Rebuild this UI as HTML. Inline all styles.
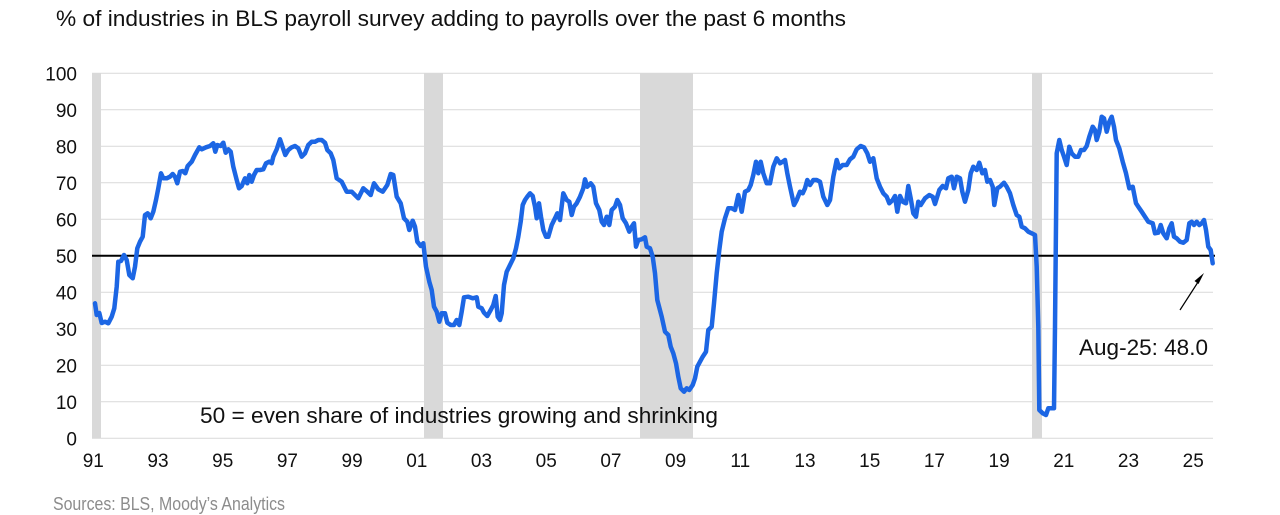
<!DOCTYPE html>
<html>
<head>
<meta charset="utf-8">
<style>
  html,body{margin:0;padding:0;background:#fff;}
  svg{display:block;}
  text{font-family:"Liberation Sans",Arial,sans-serif;}
</style>
</head>
<body>
<svg width="1280" height="515" viewBox="0 0 1280 515" xmlns="http://www.w3.org/2000/svg">
  <rect x="0" y="0" width="1280" height="515" fill="#fff"/>
  <!-- title -->
  <text x="56" y="26" font-size="22" fill="#111" textLength="790" lengthAdjust="spacingAndGlyphs">% of industries in BLS payroll survey adding to payrolls over the past 6 months</text>

  <!-- recession shading -->
  <g fill="#d9d9d9">
    <rect x="92" y="73" width="9" height="365"/>
    <rect x="424" y="73" width="19" height="365"/>
    <rect x="640" y="73" width="53" height="365"/>
    <rect x="1032" y="73" width="10" height="365"/>
  </g>

  <!-- gridlines -->
  <g stroke="#d9d9d9" stroke-width="1">
    <line x1="92" x2="1213" y1="73.3" y2="73.3"/>
    <line x1="92" x2="1213" y1="109.8" y2="109.8"/>
    <line x1="92" x2="1213" y1="146.3" y2="146.3"/>
    <line x1="92" x2="1213" y1="182.8" y2="182.8"/>
    <line x1="92" x2="1213" y1="219.3" y2="219.3"/>
    <line x1="92" x2="1213" y1="292.3" y2="292.3"/>
    <line x1="92" x2="1213" y1="328.8" y2="328.8"/>
    <line x1="92" x2="1213" y1="365.3" y2="365.3"/>
    <line x1="92" x2="1213" y1="401.8" y2="401.8"/>
    <line x1="92" x2="1213" y1="438.3" y2="438.3"/>
  </g>

  <!-- y labels -->
  <g font-size="19" fill="#111" text-anchor="end">
    <text x="77" y="80.3">100</text>
    <text x="77" y="116.8">90</text>
    <text x="77" y="153.3">80</text>
    <text x="77" y="189.8">70</text>
    <text x="77" y="226.3">60</text>
    <text x="77" y="262.8">50</text>
    <text x="77" y="299.3">40</text>
    <text x="77" y="335.8">30</text>
    <text x="77" y="372.3">20</text>
    <text x="77" y="408.8">10</text>
    <text x="77" y="445.3">0</text>
  </g>

  <!-- x labels -->
  <g font-size="19" fill="#111" text-anchor="middle">
    <text x="93.3" y="467">91</text>
    <text x="158.0" y="467">93</text>
    <text x="222.7" y="467">95</text>
    <text x="287.4" y="467">97</text>
    <text x="352.1" y="467">99</text>
    <text x="416.8" y="467">01</text>
    <text x="481.5" y="467">03</text>
    <text x="546.2" y="467">05</text>
    <text x="610.9" y="467">07</text>
    <text x="675.6" y="467">09</text>
    <text x="740.3" y="467">11</text>
    <text x="805.0" y="467">13</text>
    <text x="869.7" y="467">15</text>
    <text x="934.4" y="467">17</text>
    <text x="999.1" y="467">19</text>
    <text x="1063.8" y="467">21</text>
    <text x="1128.5" y="467">23</text>
    <text x="1193.2" y="467">25</text>
  </g>

  <!-- 50 line -->
  <line x1="92" x2="1215" y1="255.8" y2="255.8" stroke="#000" stroke-width="2"/>

  <!-- series -->
  <polyline fill="none" stroke="#1c66e4" stroke-width="4.5" stroke-linejoin="round" stroke-linecap="round" points="
95,303.3 96.7,315 99.3,313 101.7,323 105,321.7 108.3,323.3 111.7,316.7 114.3,308.3 116.7,286.7 118.3,261.7 121,261 124,255 126.7,260 129.3,275 132.7,278.3 135,266.7 137.3,248.3 140,241.7 142.7,236.7 145,215 147.7,213.3 150.7,218.3 153.3,211.7 156,200 158.3,188.3 161,173.3 163.3,178.3 166.7,178.3 170,176.7 172.7,174 175,176.7 177.3,183.3 180,171.7 182.7,171 185.3,173.3 187.7,166 191.7,161.7 195,155 199.3,147.3 201.7,149.3 206,147.3 210,146 213.3,143.3 215.3,151.7 217.3,145 220.7,146 223.3,142.7 225.7,152.7 228.3,149.3 230.7,151.7 233.3,166.7 236.7,180 239,188.3 241.7,186 245,178.3 247.3,183.3 249.3,175 251.7,181.7 254,175 256.7,170 260,170 263.3,169.3 266,163.3 269.3,161.7 271.7,163.3 273.3,156.7 276.7,149.3 280,139.3 282.7,147.3 285.3,155 288.3,150 291.7,147.3 295,146 298.3,148.3 301.7,156.7 305,153.3 308.3,145 311.7,141.7 315,141.7 318.3,140 321.7,140 325,142.7 327.3,150 330.7,153.3 333.3,160
336.7,178.3 341.7,181.7 346.7,191.7 351.7,191.7 358.3,198.3 363.3,188.3 367.3,191.7 370.7,195 374,183.3 378.3,189.3 382.7,191.7 387.3,185 390.7,174 393.3,175 396.7,196.7 400.7,203.3 404,218.3 407.3,221.7 409.3,230 412.7,220.7 415,226.7 417.3,241.7 420.7,246 423.3,243.3 426,266.7 429.3,281.7 431.7,290 434,306.7 436.7,311.7 439.3,321.7 441.7,313.3 445,313.3 447.3,322.7 450.7,325 454,325 456.7,320 459.3,325 461.7,311.7 464,297.3 468.3,296.7 472.7,298.3 476.7,297.3 478.3,306.7 481.7,308.3 484,312.7 487.3,316 490.7,310 493.3,305 495.7,296 497.7,316.7 500,320 501.7,313.3 504,285 506.7,271.7 510,265 513.3,258.3 516,248.3 518.3,236.7 520.7,221.7 522.7,205 525,200 527.3,196.7 530,193.3 532.7,196 535,206.7 536.7,218.3 539,203.3 541,216.7 543.3,230 546,236.7 548.3,236.7 551.7,225 555,218.3 557.3,213.3 560,220 563.3,193.3 566.7,200 569.3,201.7 571.7,215 574,206.7 576.7,203.3 580,196.7 583.3,188.3 585,179.3 587.3,186.7 590.7,183.3 593.3,186.7 596,203.3 599.3,210 601.7,221.7 604,225 606.7,216.7 609.3,225 611.7,210 615,206.7 617.3,200 620,205 622.7,218.3 626,223.3 629.3,231.7 631.7,226.7 634,223.3 636,246.7 638.3,240 641.7,239.3 645,237.3 646.7,246.7 650,248.3 652.7,256.7 655,273.3 657.3,300
661.7,316.7 665,331.7 668.3,335 670.7,346.7 673.3,353.3 676,363.3 678.3,376.7 680.7,388.3 684,391.7 686.7,388.3 689.3,390 692.7,385 695,378.3 697.3,366.7 700,361.7 702.7,356.7 706,351.7 708.3,330 711.7,326.7 714,303.3 716.7,273.3 719.3,250 721.7,231.7 725,218.3 728.3,208.3 731.7,208.3 735,210 738.3,195 741.7,211.7 745,191.7 748.3,190 750.7,185 753.3,175 756,161.7 758.3,173.3 760.7,161.7 763.3,173.3 766.7,183.3 770,183.3 773.3,166.7 776.7,158.3 780,163.3 782.7,161.7 785,160 787.3,173.3 790,186.7 794,205 796.7,200 800,191.7 802.7,193.3 805,188.3 807.3,180 810,185 813.3,180 816.7,180
820,181.7 823.3,196.7 827.3,205 830,200 833.3,176.7 836.7,160 839.3,168.3 842.7,165 846.7,165 850,159.3 853.3,156.7 856.7,149.3 860.7,146 864,147.3 867.3,153.3 870,161.7 873.3,158.3 876.7,178.3 880,186.7 883.3,193.3 886.7,196.7 889.3,203.3 892.7,200 895,196 897.3,211.7 900,196 902.7,201.7 906,203.3 908.3,186 910.7,198.3 913.3,213.3 916,216.7 918.3,201.7 920.7,205 925,198.3 929.3,195 932.7,196.7 935,204 939.3,190 942.7,186 946,188.3 948.3,178.3 951.7,176.7 954,188.3 956.7,176.7 960,178.3 962.3,191.7 965,201.7 968.3,190 970.7,173.3 973.3,166.7 976.7,170 979.3,162.7 982.3,173.3 985,170 987.3,181.7 990,180 992.7,186.7 994.3,205 997.3,188.3 1000,186.7 1004,182.7 1006.7,186.7 1010,193.3 1013.3,205 1016.7,215 1019.3,216.7 1021.7,226.7 1025,228.3 1028.3,231.7 1031.7,233.3 1035,235 1036.7,266.7 1038.3,326.7 1039.3,410 1042.7,413.3 1046,415 1048.3,408.3 1051.7,408.3 1054,408.3 1055,326.7 1056.7,153.3 1059.3,140 1061.7,150 1064,156.7 1066.7,165 1069.3,146.7 1071.7,153.3 1075,156.7 1078.3,156.7 1081,150 1084,150 1086.7,146 1089.3,136.7 1092.7,126.7 1095,130 1096.7,140 1099.3,131.7 1101.7,116.7 1104,118.3 1106.7,131.7 1109.3,121.7 1111.7,116.7 1114,126.7 1116,140 1119.3,148.3 1122.7,161.7 1126,173.3 1129.3,188.3 1132.7,186.7 1136,203.3 1138.3,206.7 1141.7,211.7 1145,216.7 1148.3,221.7 1152.7,223.3 1155,233.3 1158.3,232.7 1160.7,225 1163.3,233.3 1166.7,238.3 1169.3,228.3 1171.7,223.3 1174,236.7 1176.7,238.3 1180,241.7 1183.3,242.7 1186.7,240 1189.3,223.3 1191.7,221.7 1194,225 1196.7,221.7 1199.3,225 1201.7,223.3 1204,220 1206,230 1208.3,246.7 1210.7,250 1212.7,263.3"/>

  <!-- annotations -->
  <text x="200" y="423" font-size="22" fill="#111" textLength="518" lengthAdjust="spacingAndGlyphs">50 = even share of industries growing and shrinking</text>
  <text x="1079" y="355" font-size="22" fill="#111" textLength="129" lengthAdjust="spacingAndGlyphs">Aug-25: 48.0</text>
  <line x1="1180" y1="310" x2="1200" y2="279" stroke="#000" stroke-width="1.2"/>
  <polygon points="1204,273 1198.5,284 1194.5,281" fill="#000"/>

  <!-- source -->
  <text x="53" y="510" font-size="18" fill="#8c8c8c" textLength="232" lengthAdjust="spacingAndGlyphs">Sources: BLS, Moody’s Analytics</text>
</svg>
</body>
</html>
